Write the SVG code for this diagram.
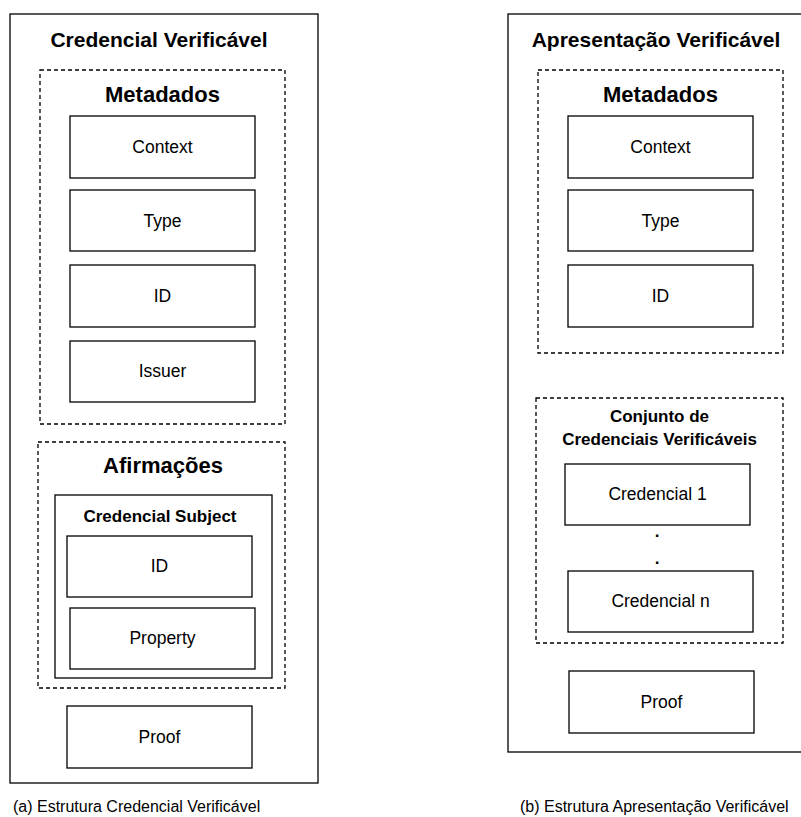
<svg xmlns="http://www.w3.org/2000/svg" width="801" height="817" viewBox="0 0 801 817">
<style>
.box{fill:#fff;stroke:#000;stroke-width:1.3}
.dash{fill:none;stroke:#000;stroke-width:1.3;stroke-dasharray:4 3}
text{font-family:"Liberation Sans",Arial,sans-serif;fill:#000;text-anchor:middle}
.t1{font-size:21px;font-weight:bold}
.t2{font-size:22px;font-weight:bold}
.t3{font-size:17px;font-weight:bold}
.lb{font-size:17.5px}
.cap{font-size:16px;text-anchor:start}
</style>
<rect width="801" height="817" fill="#fff"/>
<g id="vc">
  <rect class="box" x="10" y="14" width="308" height="769"/>
  <text class="t1" x="159" y="47">Credencial Verificável</text>
</g>
<g id="vc-metadados">
  <rect class="dash" x="40" y="70" width="245" height="354"/>
  <text class="t2" x="162.5" y="102">Metadados</text>
</g>
<g id="vc-context"><rect class="box" x="70" y="116" width="185" height="62"/><text class="lb" x="162.5" y="153">Context</text></g>
<g id="vc-type"><rect class="box" x="70" y="190" width="185" height="61"/><text class="lb" x="162.5" y="227">Type</text></g>
<g id="vc-id"><rect class="box" x="70" y="265" width="185" height="62"/><text class="lb" x="162.5" y="302">ID</text></g>
<g id="vc-issuer"><rect class="box" x="70" y="341" width="185" height="61"/><text class="lb" x="162.5" y="377">Issuer</text></g>
<g id="vc-afirmacoes">
  <rect class="dash" x="38" y="442" width="247" height="246"/>
  <text class="t2" x="163" y="473">Afirmações</text>
</g>
<g id="vc-subject">
  <rect class="box" x="55" y="495" width="217" height="183"/>
  <text class="t3" x="160" y="522">Credencial Subject</text>
</g>
<g id="vc-subject-id"><rect class="box" x="67" y="536" width="185" height="61"/><text class="lb" x="159.5" y="572">ID</text></g>
<g id="vc-property"><rect class="box" x="70" y="608" width="185" height="61"/><text class="lb" x="162.5" y="644">Property</text></g>
<g id="vc-proof"><rect class="box" x="67" y="706" width="185" height="62"/><text class="lb" x="159.5" y="743">Proof</text></g>
<g id="vp">
  <rect class="box" x="508" y="14" width="310" height="738"/>
  <text class="t1" x="656" y="47">Apresentação Verificável</text>
</g>
<g id="vp-metadados">
  <rect class="dash" x="538" y="70" width="245" height="283"/>
  <text class="t2" x="660.5" y="102">Metadados</text>
</g>
<g id="vp-context"><rect class="box" x="568" y="116" width="185" height="62"/><text class="lb" x="660.5" y="153">Context</text></g>
<g id="vp-type"><rect class="box" x="568" y="190" width="185" height="61"/><text class="lb" x="660.5" y="227">Type</text></g>
<g id="vp-id"><rect class="box" x="568" y="265" width="185" height="62"/><text class="lb" x="660.5" y="302">ID</text></g>
<g id="vp-conjunto">
  <rect class="dash" x="536" y="398" width="247" height="245"/>
  <text class="t3" x="659.5" y="422">Conjunto de</text>
  <text class="t3" x="659.5" y="445">Credenciais Verificáveis</text>
</g>
<g id="vp-cred1"><rect class="box" x="565" y="464" width="185" height="61"/><text class="lb" x="657.5" y="500">Credencial 1</text></g>
<g id="vp-dots">
  <text class="t3" x="657" y="537">.</text>
  <text class="t3" x="657" y="564">.</text>
</g>
<g id="vp-credn"><rect class="box" x="568" y="571" width="185" height="61"/><text class="lb" x="660.5" y="607">Credencial n</text></g>
<g id="vp-proof"><rect class="box" x="569" y="671" width="185" height="62"/><text class="lb" x="661.5" y="708">Proof</text></g>
<g id="connectors"></g>
<g id="captions">
  <text class="cap" x="13" y="812">(a) Estrutura Credencial Verificável</text>
  <text class="cap" x="520" y="812">(b) Estrutura Apresentação Verificável</text>
</g>
</svg>
